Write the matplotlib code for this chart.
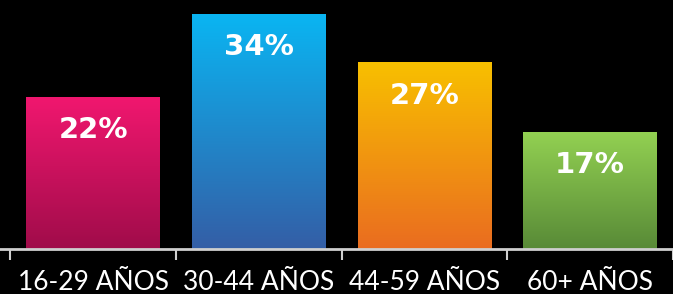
import numpy as np
import matplotlib.pyplot as plt
from matplotlib.colors import LinearSegmentedColormap
from matplotlib.patches import Rectangle

categories = ['16-29 AÑOS', '30-44 AÑOS', '44-59 AÑOS', '60+ AÑOS']
values = [22, 34, 27, 17]
top_colors = ['#F1176F', '#0AB5F2', '#F8C000', '#93D152']
bottom_colors = ['#A00C4A', '#345EA6', '#EA6C20', '#588A37']

fig = plt.figure(figsize=(6.73, 2.94), dpi=100, facecolor='black')
ax = fig.add_axes([0, 45 / 294, 1, 249 / 294])
ax.set_facecolor('black')

x = np.arange(len(categories))
width = 0.806
bars = ax.bar(x, values, width=width, color='none')

grad = np.linspace(1, 0, 256).reshape(-1, 1)
for i, b in enumerate(bars):
    cmap = LinearSegmentedColormap.from_list('g%d' % i, [bottom_colors[i], top_colors[i]])
    x0, y0 = b.get_x(), b.get_y()
    w, h = b.get_width(), b.get_height()
    im = ax.imshow(grad, cmap=cmap, aspect='auto', extent=[x0, x0 + w, y0, y0 + h],
                   interpolation='bicubic', zorder=2)
    clip = Rectangle((x0, y0), w, h, transform=ax.transData)
    im.set_clip_path(clip)
    ax.text(x[i], values[i] - 4.8, '%d%%' % values[i], ha='center', va='center',
            color='white', fontsize=21, fontweight='bold', family='DejaVu Sans', zorder=3)

# 167.5 px per category, first boundary tick at ~10 px
ax.set_xlim(-0.5615, -0.5615 + 673 / 167.5)
ax.set_ylim(0, 36.03)

for s in ['top', 'right', 'left']:
    ax.spines[s].set_visible(False)
ax.spines['bottom'].set_color('#CFCFCF')
ax.spines['bottom'].set_linewidth(2)
ax.set_yticks([])
ax.set_xticks(np.arange(len(categories) + 1) - 0.5)
ax.set_xticklabels([])
ax.set_xticks(x, minor=True)
ax.set_xticklabels(categories, minor=True, color='white', fontsize=19,
                   family=['Lato', 'DejaVu Sans'], fontweight='normal')
ax.tick_params(axis='x', which='major', length=8, width=1.5, color='#CFCFCF')
ax.tick_params(axis='x', which='minor', length=0, pad=15)

fig.savefig('out.png', dpi=100, facecolor='black')
